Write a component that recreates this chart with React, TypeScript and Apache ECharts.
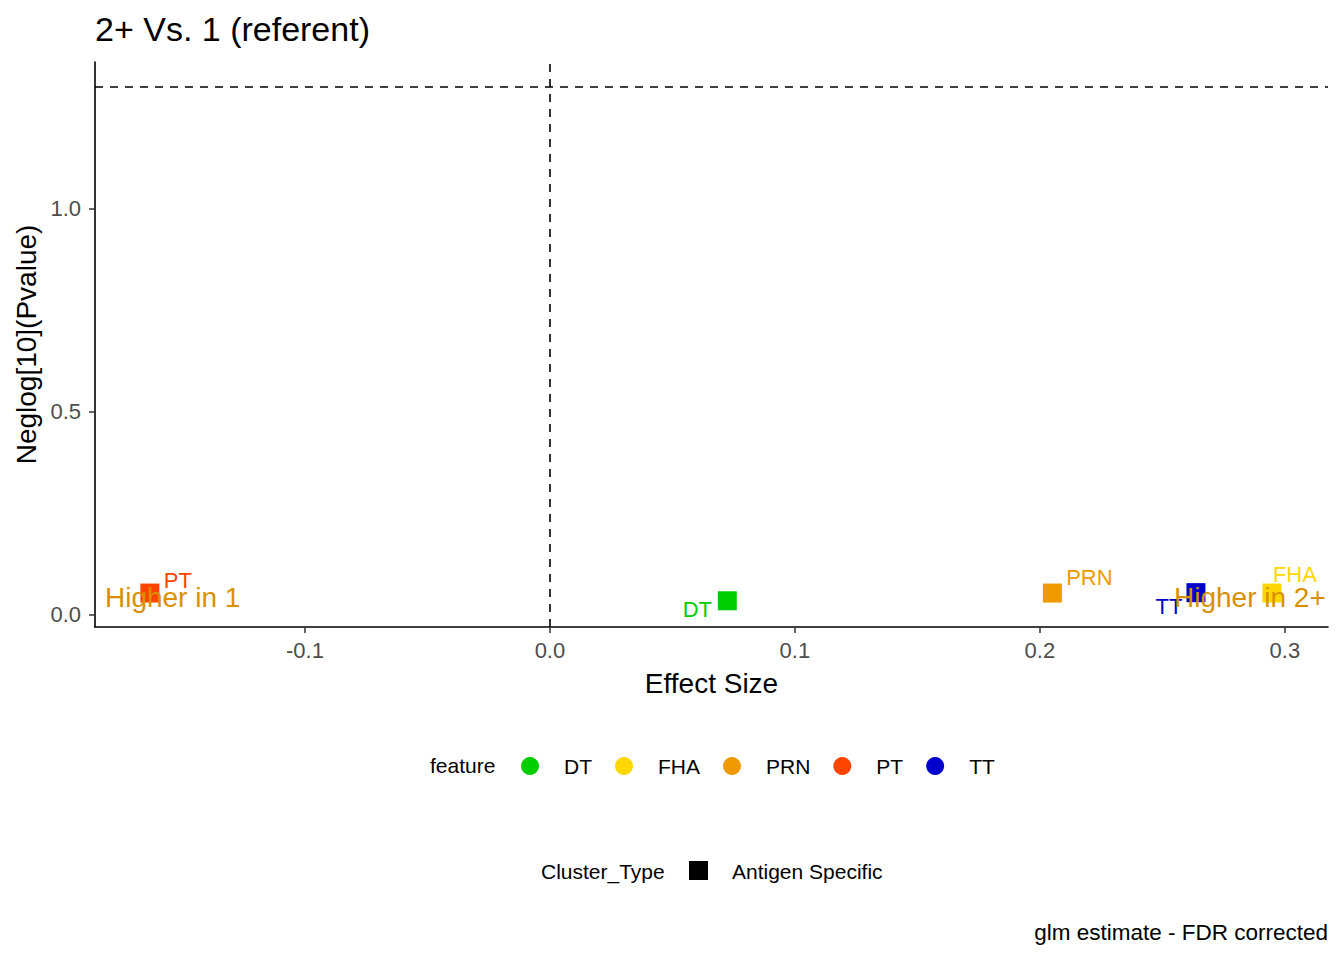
import React, { useEffect, useRef } from "react";
import * as echarts from "echarts";

const features = ["DT", "FHA", "PRN", "PT", "TT"];
const effectSize = [0.0724, 0.2947, 0.2051, -0.1633, 0.2637];
const negLogP = [0.035, 0.054, 0.054, 0.054, 0.055];
const featureColors = ["#00CD00", "#FFD700", "#EE9A00", "#FF4500", "#0000CD"];
const xTicks = [-0.1, 0.0, 0.1, 0.2, 0.3];
const yTicks = [0.0, 0.5, 1.0];
const annotationText = ["Higher in 1", "Higher in 2+"];
const annotationX = [-0.154, 0.2857];
const annotationY = [0.044, 0.044];
const significance = 0.05;
const clusterTypes = ["Antigen Specific"];

const FONT = "'Liberation Sans', Arial, sans-serif";

// repelled label offsets (layout only)
const labelOffsets: Record<string, [number, number]> = {
  DT: [-30, 9],
  FHA: [23, -19],
  PRN: [37, -16],
  PT: [28, -13],
  TT: [-27, 14],
};

export default function App() {
  const ref = useRef<HTMLDivElement>(null);
  useEffect(() => {
    document.body.style.margin = "0";
    const chart = echarts.init(ref.current!, null, { renderer: "svg" });
    const threshold = -Math.log10(significance);

    const featureSeries = features.map((f, i) => ({
      name: f,
      type: "scatter",
      symbol: "rect",
      symbolSize: 19,
      itemStyle: { color: featureColors[i], opacity: 1 },
      z: 3,
      data: [
        {
          value: [effectSize[i], negLogP[i]],
          label: {
            show: true,
            formatter: f,
            position: "inside",
            offset: labelOffsets[f],
            color: featureColors[i],
            textBorderWidth: 0,
            fontSize: 22,
            fontFamily: FONT,
          },
        },
      ],
      ...(i === 0
        ? {
            markLine: {
              silent: true,
              symbol: "none",
              label: { show: false },
              lineStyle: { color: "#000", type: [8, 7], width: 1.6 },
              data: [{ xAxis: 0 }, { yAxis: threshold }],
            },
          }
        : {}),
    }));

    const annotationSeries = {
      name: "annotations",
      type: "scatter",
      symbolSize: 0,
      z: 10,
      silent: true,
      data: annotationText.map((t, i) => ({
        value: [annotationX[i], annotationY[i]],
        label: {
          show: true,
          formatter: t,
          position: "inside",
          color: "#D99000",
          opacity: 1,
          textBorderWidth: 0,
          fontSize: 28,
          fontFamily: FONT,
        },
      })),
    };

    chart.setOption({
      animation: false,
      textStyle: { fontFamily: FONT },
      title: {
        text: "2+ Vs. 1 (referent)",
        left: 95,
        top: 12,
        padding: 0,
        textStyle: { fontSize: 34, fontWeight: "normal", color: "#000", fontFamily: FONT },
      },
      grid: { left: 95, right: 16, top: 62, bottom: 333, outerBoundsMode: "none" },
      xAxis: {
        type: "value",
        min: -0.1857,
        max: 0.3176,
        name: "Effect Size",
        nameLocation: "middle",
        nameGap: 42,
        nameMoveOverlap: false,
        nameTextStyle: { fontSize: 28, color: "#000", fontFamily: FONT },
        axisLine: { show: true, onZero: false, lineStyle: { color: "#000", width: 1.6 } },
        axisTick: { show: true, customValues: xTicks, length: 6, lineStyle: { color: "#333", width: 1.5 } },
        axisLabel: {
          customValues: xTicks,
          formatter: (v: number) => v.toFixed(1),
          margin: 12,
          fontSize: 22,
          color: "#4D4D4D",
          fontFamily: FONT,
        },
        splitLine: { show: false },
      },
      yAxis: {
        type: "value",
        min: -0.0296,
        max: 1.362,
        name: "Neglog[10](Pvalue)",
        nameLocation: "middle",
        nameGap: 55,
        nameMoveOverlap: false,
        nameTextStyle: { fontSize: 28, color: "#000", fontFamily: FONT },
        axisLine: { show: true, onZero: false, lineStyle: { color: "#000", width: 1.6 } },
        axisTick: { show: true, customValues: yTicks, length: 6, lineStyle: { color: "#333", width: 1.5 } },
        axisLabel: {
          customValues: yTicks,
          formatter: (v: number) => v.toFixed(1),
          margin: 14,
          fontSize: 22,
          color: "#4D4D4D",
          fontFamily: FONT,
        },
        splitLine: { show: false },
      },
      legend: {
        data: features,
        icon: "circle",
        left: 521,
        top: 754,
        padding: 0,
        itemWidth: 18,
        itemHeight: 18,
        itemGap: 23,
        selectedMode: false,
        textStyle: { fontSize: 21, color: "#000", fontFamily: FONT, padding: [0, 0, 0, 20], lineHeight: 24 },
      },
      graphic: [
        {
          type: "text",
          left: 430,
          top: 755,
          style: { text: "feature", fill: "#000", font: `21px ${FONT}` },
        },
        {
          type: "text",
          left: 541,
          top: 861,
          style: { text: "Cluster_Type", fill: "#000", font: `21px ${FONT}` },
        },
        {
          type: "rect",
          shape: { x: 689, y: 861, width: 19, height: 19 },
          style: { fill: "#000" },
        },
        {
          type: "text",
          left: 732,
          top: 861,
          style: { text: clusterTypes[0], fill: "#000", font: `21px ${FONT}` },
        },
        {
          type: "text",
          right: 16,
          top: 921,
          style: { text: "glm estimate - FDR corrected", fill: "#000", font: `22.5px ${FONT}` },
        },
      ],
      series: [...featureSeries, annotationSeries],
    });
    return () => chart.dispose();
  }, []);
  return <div ref={ref} style={{ width: 1344, height: 960 }} />;
}
